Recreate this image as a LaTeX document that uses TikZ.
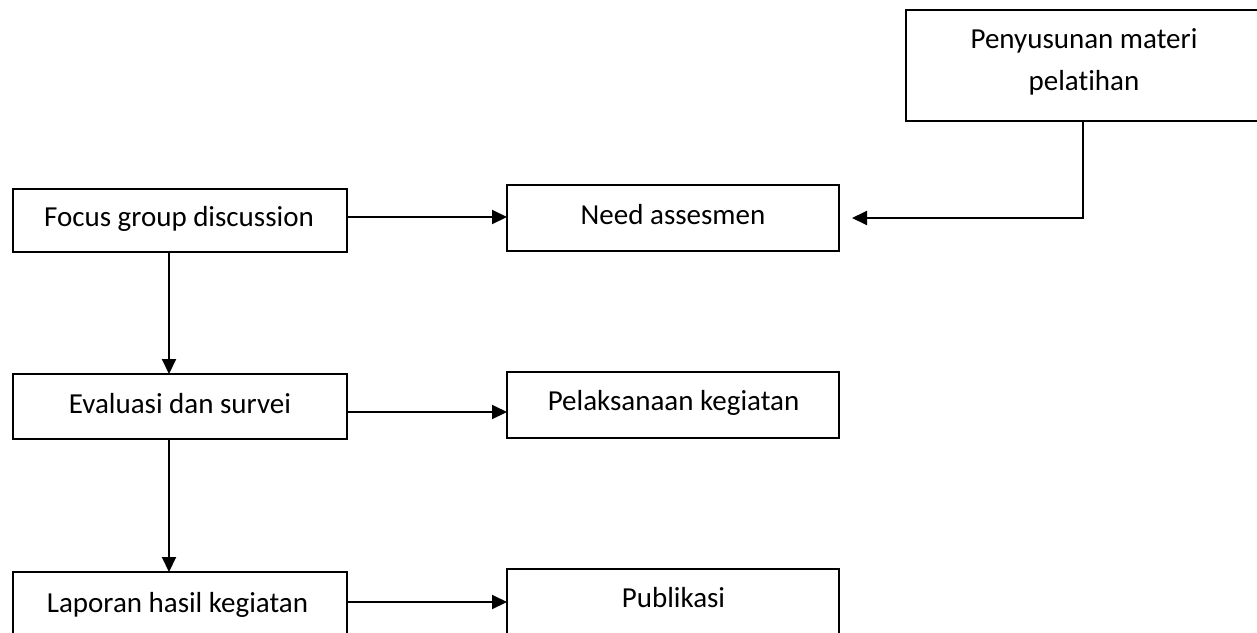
\documentclass[tikz,border=0pt]{standalone}
\usepackage{fontspec}
\setmainfont{Carlito}[Ligatures={NoCommon}]
\usetikzlibrary{arrows.meta}
\begin{document}
\begin{tikzpicture}[x=1pt,y=-1pt,
  box/.style={draw=black,line width=2pt,rectangle,inner sep=0pt,outer sep=0pt},
  txt/.style={inner sep=0pt,anchor=base,font=\fontsize{29}{42}\selectfont},
  arr/.style={draw=black,line width=2pt,-{Triangle[length=15pt,width=14pt]}},
  ln/.style={draw=black,line width=2pt}]
\useasboundingbox (0,0) rectangle (1257,632);
\clip (0,0) rectangle (1257,632);
% boxes
\node[box,minimum width=394pt,minimum height=111.5pt] (pen) at (1103,65.25) {};
\node[box,minimum width=334pt,minimum height=63pt] (fgd) at (180,220.5) {};
\node[box,minimum width=332pt,minimum height=66pt] (need) at (673,218) {};
\node[box,minimum width=334pt,minimum height=65pt] (eval) at (180,406.5) {};
\node[box,minimum width=332pt,minimum height=66pt] (pel) at (673,405) {};
\node[box,minimum width=334pt,minimum height=128pt] (lap) at (180,636) {};
\node[box,minimum width=332pt,minimum height=131pt] (pub) at (673,634.5) {};
% texts
\node[txt] (tpen1) at (1084,48) {Penyusunan materi};
\node[txt] (tpen2) at (1084,90) {pelatihan};
\node[txt] (tfgd) at (179,226) {Focus group discussion};
\node[txt] (tneed) at (673,224) {Need assesmen};
\node[txt] (teval) at (180,413) {Evaluasi dan survei};
\node[txt] (tpel) at (673.5,410) {Pelaksanaan kegiatan};
\node[txt] (tlap) at (177.5,612) {Laporan hasil kegiatan};
\node[txt] (tpub) at (673.5,607) {Publikasi};
% connectors
\coordinate (needin) at (852,218);
\draw[arr] (pen.south -| 1083,0) |- (needin);
\draw[arr] (fgd.east |- 0,217) -- (need.west |- 0,217);
\draw[arr] (fgd.south -| 169,0) -- (eval.north -| 169,0);
\draw[arr] (eval.east |- 0,412) -- (pel.west |- 0,412);
\draw[arr] (eval.south -| 169,0) -- (lap.north -| 169,0);
\draw[arr] (lap.east |- 0,602) -- (pub.west |- 0,602);
\end{tikzpicture}
\end{document}
